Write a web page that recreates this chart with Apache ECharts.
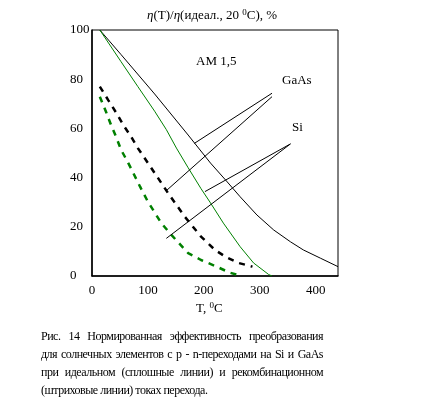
<!DOCTYPE html>
<html>
<head>
<meta charset="utf-8">
<script src="https://cdn.jsdelivr.net/npm/echarts@6/dist/echarts.min.js"></script>
<style>
    body { margin: 0; background: #fff; }
    #chart { width: 439px; height: 399px; }
    #caption {
        position: absolute; left: 41px; top: 327px; width: 282px;
        font-family: 'Liberation Serif', serif; font-size: 12px; letter-spacing: -0.5px;
        line-height: 18px; color: #000;
    }
    #caption .j { text-align: justify; text-align-last: justify; }
</style>
</head>
<body>
<div id="chart"></div>
<div id="caption">
    <div class="j">Рис. 14 Нормированная эффективность преобразования</div>
    <div class="j">для солнечных элементов с p - n-переходами на Si и GaAs</div>
    <div class="j">при идеальном (сплошные линии) и рекомбинационном</div>
    <div>(штриховые линии) токах перехода.</div>
</div>
<script>
    // GaAs, ideal junction current (black solid)
    var gaasIdealT = [14, 52, 112, 172, 212, 239, 265, 295, 325, 355, 378, 409, 440]
    var gaasIdealY = [100, 90, 74, 57.3, 45.9, 39, 32.2, 24.8, 18.7, 13.9, 10.6, 7.2, 3.8]
    // Si, ideal (green solid)
    var siIdealT = [14, 52, 82, 112, 133, 151, 172, 195, 212, 235, 265, 289, 316, 322]
    var siIdealY = [100, 87.1, 77, 67, 59.5, 52, 44, 35.5, 29.7, 21.5, 11.9, 5.3, 0.6, 0]
    // GaAs, recombination current (black dashed)
    var gaasRecT = [14, 29, 44, 56, 70, 82, 112, 136, 166, 195, 220, 239, 262, 287]
    var gaasRecY = [77, 71.5, 66.1, 61.4, 56.6, 52, 41.9, 33.7, 24.1, 16, 10.6, 7.8, 5.3, 3.8]
    // Si, recombination (green dashed)
    var siRecT = [14, 25, 34, 43, 52, 65, 86, 100, 124, 142, 172, 195, 220, 247, 268]
    var siRecY = [72.9, 66.8, 61.4, 56.6, 51.3, 45.9, 36.3, 30.2, 21.5, 16.7, 9.3, 6.5, 4.1, 1.3, 0]

    // leader lines from the labels to the curves [T, value]
    var leaderGaAs = [[[322, 74.3], [183, 53.9]], [[322, 72.9], [133, 34.7]]]
    var leaderSi = [[[355, 53.7], [202, 34.3]], [[355, 53.7], [133, 15.3]]]

    var xTicks = [0, 100, 200, 300, 400]
    var yTicks = [0, 20, 40, 60, 80, 100]

    var serif = 'Liberation Serif'

    function zip(a, b) {
        return a.map(function(v, i) { return [v, b[i]] })
    }

    var myChart = echarts.init(document.getElementById('chart'))

    var series = [
        { data: zip(gaasIdealT, gaasIdealY), color: '#000', type: 'solid', width: 1 },
        { data: zip(siIdealT, siIdealY), color: '#008000', type: 'solid', width: 1 },
        { data: zip(gaasRecT, gaasRecY), color: '#000', type: [6, 6], width: 2.5 },
        { data: zip(siRecT, siRecY), color: '#008000', type: [6, 6], width: 2.5 }
    ].map(function(s) {
        return {
            type: 'line',
            data: s.data,
            symbol: 'none',
            smooth: false,
            silent: true,
            lineStyle: { color: s.color, width: s.width, type: s.type }
        }
    })

    leaderGaAs.concat(leaderSi).forEach(function(seg) {
        series.push({
            type: 'line',
            data: seg,
            symbol: 'none',
            silent: true,
            lineStyle: { color: '#000', width: 1 }
        })
    })

    var option = {
        animation: false,
        backgroundColor: '#fff',
        grid: {
            left: 92, right: 101, top: 30, bottom: 123,
            show: true, borderColor: '#000', borderWidth: 1
        },
        xAxis: {
            type: 'value',
            min: 0,
            max: 440,
            interval: 100,
            axisLine: { show: true, lineStyle: { color: '#000', width: 1.5 } },
            axisTick: { show: false },
            splitLine: { show: false },
            axisLabel: {
                margin: 8,
                color: '#000',
                fontFamily: serif,
                fontSize: 13,
                formatter: function(v) { return xTicks.indexOf(v) >= 0 ? String(v) : '' }
            }
        },
        yAxis: {
            type: 'value',
            min: 0,
            max: 100,
            interval: 20,
            axisLine: { show: true, lineStyle: { color: '#000', width: 1.5 } },
            axisTick: { show: false },
            splitLine: { show: false },
            axisLabel: {
                margin: 22,
                align: 'left',
                color: '#000',
                fontFamily: serif,
                fontSize: 13,
                formatter: function(v) { return yTicks.indexOf(v) >= 0 ? String(v) : '' }
            }
        },
        graphic: [
            {
                type: 'text', left: 147, top: 8,
                style: {
                    text: '{i|η}(T)/{i|η}(идеал., 20 {s|0}C), %',
                    fill: '#000', font: '13px "Liberation Serif"',
                    rich: {
                        i: { fontStyle: 'italic', fontSize: 13, fontFamily: serif },
                        s: { fontSize: 9, fontFamily: serif, padding: [0, 0, 6, 0] }
                    }
                }
            },
            {
                type: 'text', left: 196, top: 301,
                style: {
                    text: 'T, {s|0}C',
                    fill: '#000', font: '13px "Liberation Serif"',
                    rich: { s: { fontSize: 9, fontFamily: serif, padding: [0, 0, 6, 0] } }
                }
            },
            { type: 'text', left: 196, top: 55, style: { text: 'AM 1,5', fill: '#000', font: '13px "Liberation Serif"' } },
            { type: 'text', left: 282, top: 74, style: { text: 'GaAs', fill: '#000', font: '13px "Liberation Serif"' } },
            { type: 'text', left: 292, top: 121, style: { text: 'Si', fill: '#000', font: '13px "Liberation Serif"' } }
        ],
        series: series
    }

    myChart.setOption(option)
</script>
</body>
</html>
